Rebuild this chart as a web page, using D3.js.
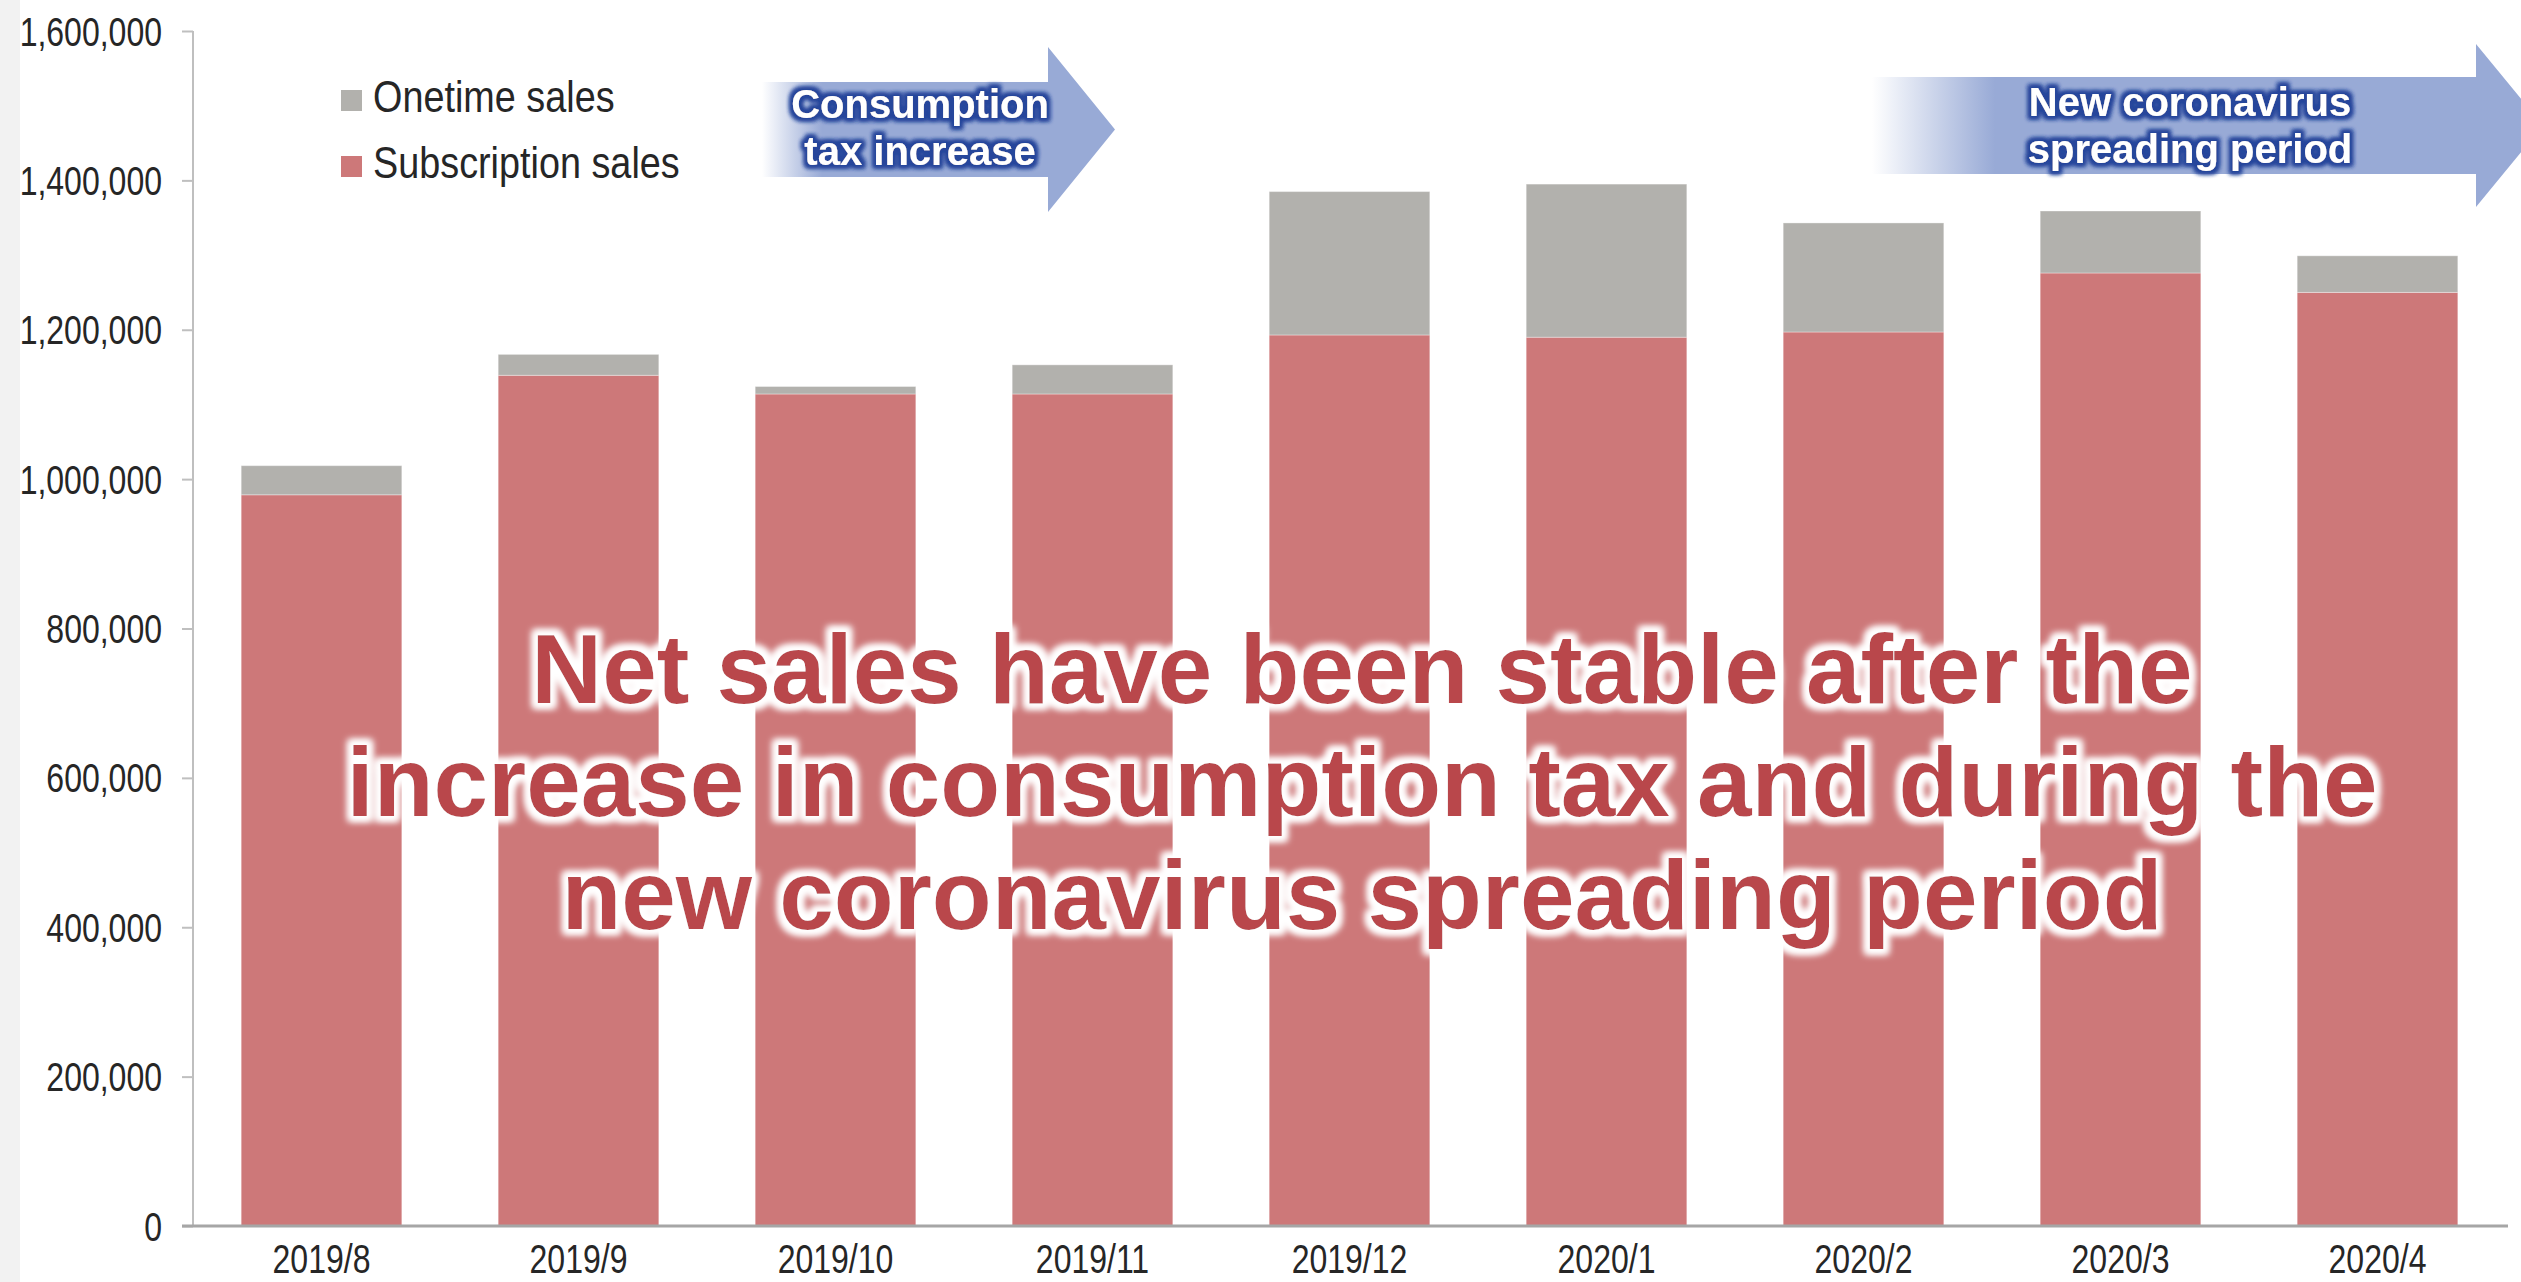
<!DOCTYPE html>
<html>
<head>
<meta charset="utf-8">
<script src="https://cdn.jsdelivr.net/npm/d3@7"></script>
<style>
  html, body { margin: 0; padding: 0; background: #fff; overflow: hidden; }
  svg { display: block; }
</style>
</head>
<body>
<script>
// Monthly net sales, split into subscription and one-time sales (JPY)
const months = ["2019/8", "2019/9", "2019/10", "2019/11", "2019/12", "2020/1", "2020/2", "2020/3", "2020/4"];
const subscriptionSales = [979000, 1139000, 1114000, 1114000, 1193000, 1190000, 1197000, 1276000, 1250000];
const onetimeSales = [39000, 28000, 10000, 39000, 192000, 205000, 146000, 83000, 49000];
const yTickValues = [0, 200000, 400000, 600000, 800000, 1000000, 1200000, 1400000, 1600000];
const seriesKeys = ["subscription", "onetime"];
const seriesLabels = { onetime: "Onetime sales", subscription: "Subscription sales" };
const seriesColors = { subscription: "#cd7879", onetime: "#b2b1ad" };
const headline = [
  "Net sales have been stable after the",
  "increase in consumption tax and during the",
  "new coronavirus spreading period"
];
const taxArrowText = ["Consumption", "tax increase"];
const covidArrowText = ["New coronavirus", "spreading period"];

const W = 2521, H = 1282;
const plot = { left: 193, right: 2506, top: 31, bottom: 1226 };

const svg = d3.select("body").append("svg")
  .attr("width", W).attr("height", H);

const defs = svg.append("defs");

// soft white halo behind the headline
const wg = defs.append("filter").attr("id", "whiteGlow")
  .attr("x", "-5%").attr("y", "-40%").attr("width", "110%").attr("height", "180%");
wg.append("feMorphology").attr("in", "SourceAlpha").attr("operator", "dilate").attr("radius", 5).attr("result", "d");
wg.append("feGaussianBlur").attr("in", "d").attr("stdDeviation", 3.5).attr("result", "b");
wg.append("feFlood").attr("flood-color", "#ffffff");
wg.append("feComposite").attr("in2", "b").attr("operator", "in").attr("result", "glow");
const wm = wg.append("feMerge");
wm.append("feMergeNode").attr("in", "glow");
wm.append("feMergeNode").attr("in", "glow");
wm.append("feMergeNode").attr("in", "SourceGraphic");

// dark blue halo behind the arrow captions
const bg = defs.append("filter").attr("id", "blueGlow")
  .attr("x", "-10%").attr("y", "-40%").attr("width", "120%").attr("height", "180%");
bg.append("feMorphology").attr("in", "SourceAlpha").attr("operator", "dilate").attr("radius", 3).attr("result", "d");
bg.append("feGaussianBlur").attr("in", "d").attr("stdDeviation", 2).attr("result", "b");
bg.append("feFlood").attr("flood-color", "#27469b");
bg.append("feComposite").attr("in2", "b").attr("operator", "in").attr("result", "glow");
const bm = bg.append("feMerge");
bm.append("feMergeNode").attr("in", "glow");
bm.append("feMergeNode").attr("in", "glow");
bm.append("feMergeNode").attr("in", "SourceGraphic");

// left page strip
svg.append("rect").attr("x", 0).attr("y", 0).attr("width", 20).attr("height", H).attr("fill", "#f2f2f2");

const x = d3.scaleBand()
  .domain(months)
  .range([plot.left, plot.right])
  .paddingInner(0.375)
  .paddingOuter(0.1875);

const y = d3.scaleLinear()
  .domain([0, 1600000])
  .range([plot.bottom, plot.top]);

const rows = months.map((m, i) => ({ month: m, subscription: subscriptionSales[i], onetime: onetimeSales[i] }));
const stacked = d3.stack().keys(seriesKeys)(rows);

// stacked bars
svg.append("g").selectAll("g")
  .data(stacked)
  .join("g")
  .attr("fill", d => seriesColors[d.key])
  .selectAll("rect")
  .data(d => d)
  .join("rect")
  .attr("x", d => x(d.data.month))
  .attr("y", d => y(d[1]))
  .attr("width", x.bandwidth())
  .attr("height", d => y(d[0]) - y(d[1]))
  .attr("stroke", "#ffffff")
  .attr("stroke-opacity", 0.35)
  .attr("stroke-width", 1);

// narrow-looking sans for ticks and legend: regular sans squeezed horizontally
const tickFont = "'Liberation Sans', Arial, sans-serif";
const squeeze = 0.8;

// y axis
const yAxis = svg.append("g")
  .attr("transform", `translate(${plot.left},0)`)
  .call(d3.axisLeft(y).tickValues(yTickValues).tickSize(11)
    .tickFormat(d3.format(",")));
yAxis.select(".domain").attr("stroke", "#bfbfbf").attr("stroke-width", 2)
  .attr("d", `M0,${plot.top}V${plot.bottom}`);
yAxis.selectAll(".tick line").attr("stroke", "#bfbfbf").attr("stroke-width", 2);
yAxis.selectAll(".tick text")
  .attr("x", 0).attr("dy", "0.35em")
  .attr("transform", `translate(-31,0) scale(${squeeze},1)`)
  .attr("font-family", tickFont).attr("font-size", 40).attr("fill", "#262626");

// x axis
const xAxis = svg.append("g")
  .attr("transform", `translate(0,${plot.bottom})`)
  .call(d3.axisBottom(x).tickSize(0));
xAxis.select(".domain").attr("stroke", "#a6a6a6").attr("stroke-width", 3)
  .attr("d", `M${plot.left - 11},0H${plot.right + 2}`);
xAxis.selectAll(".tick text")
  .attr("y", 0).attr("dy", 0)
  .attr("transform", `translate(0,47) scale(${squeeze},1)`)
  .attr("font-family", tickFont).attr("font-size", 40).attr("fill", "#262626");

// legend
const legendKeys = ["onetime", "subscription"];
const legend = svg.append("g").attr("transform", "translate(341,84)");
legendKeys.forEach((k, i) => {
  const g = legend.append("g").attr("transform", `translate(0,${i * 66})`);
  g.append("rect").attr("x", 0).attr("y", 6).attr("width", 21).attr("height", 21).attr("fill", seriesColors[k]);
  g.append("text")
    .attr("transform", `translate(32,28) scale(0.84,1)`)
    .attr("font-family", tickFont).attr("font-size", 45).attr("fill", "#262626")
    .text(seriesLabels[k]);
});

// period arrows
function arrow(id, fadeStart, fadeEnd, headBase, tip, bodyTop, bodyBottom, headTop, headBottom, lines, cx, baseline) {
  const grad = defs.append("linearGradient").attr("id", id)
    .attr("gradientUnits", "userSpaceOnUse")
    .attr("x1", fadeStart).attr("x2", fadeEnd).attr("y1", 0).attr("y2", 0);
  grad.append("stop").attr("offset", 0).attr("stop-color", "#98aad6").attr("stop-opacity", 0);
  grad.append("stop").attr("offset", 1).attr("stop-color", "#98aad6").attr("stop-opacity", 1);
  const mid = (headTop + headBottom) / 2;
  const path = d3.path();
  path.moveTo(fadeStart, bodyTop);
  path.lineTo(headBase, bodyTop);
  path.lineTo(headBase, headTop);
  path.lineTo(tip, mid);
  path.lineTo(headBase, headBottom);
  path.lineTo(headBase, bodyBottom);
  path.lineTo(fadeStart, bodyBottom);
  path.closePath();
  svg.append("path").attr("d", path.toString()).attr("fill", `url(#${id})`);
  const t = svg.append("text")
    .attr("text-anchor", "middle")
    .attr("font-family", "'Liberation Sans', Arial, sans-serif")
    .attr("font-weight", "bold").attr("font-size", 40)
    .attr("fill", "#ffffff").attr("filter", "url(#blueGlow)");
  lines.forEach((l, i) => {
    t.append("tspan").attr("x", cx).attr("y", baseline + i * 47).text(l);
  });
}
arrow("taxFade", 762, 822, 1048, 1115, 82, 177, 47, 212, taxArrowText, 920, 118);
arrow("covidFade", 1872, 1995, 2476, 2543, 77, 174, 44, 207, covidArrowText, 2190, 116);

// headline
const head = svg.append("text")
  .attr("text-anchor", "middle")
  .attr("font-family", "'Liberation Sans', Arial, sans-serif")
  .attr("font-weight", "bold").attr("font-size", 98)
  .attr("fill", "#b9474c").attr("filter", "url(#whiteGlow)");
headline.forEach((l, i) => {
  head.append("tspan").attr("x", 1362).attr("y", 703 + i * 113).text(l);
});
</script>
</body>
</html>
